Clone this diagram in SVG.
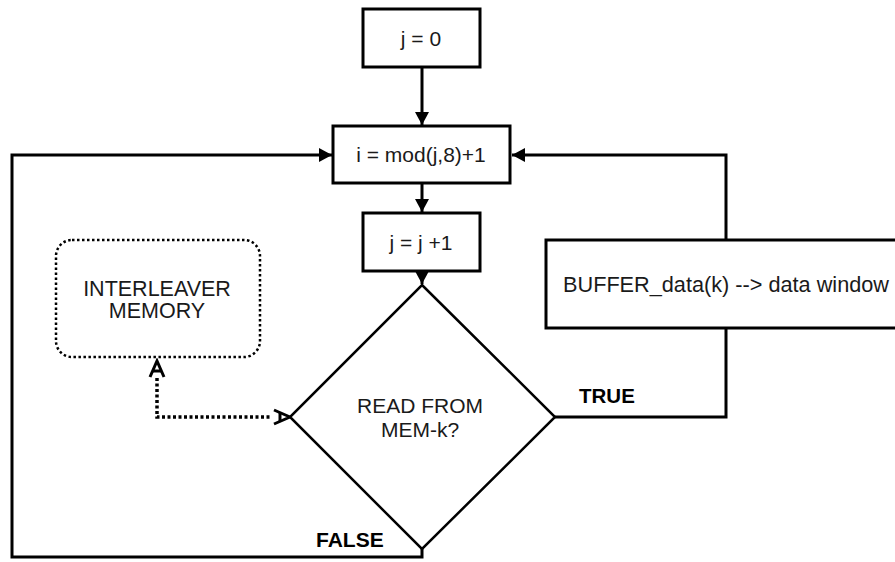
<svg xmlns="http://www.w3.org/2000/svg" width="895" height="562" viewBox="0 0 895 562">
  <style>
    .box { fill: #fff; stroke: #000; stroke-width: 3; }
    .dia { fill: #fff; stroke: #000; stroke-width: 2.5; }
    .mem { fill: #fff; stroke: #000; stroke-width: 2.5; stroke-dasharray: 2.5 2.5; }
    .t { font-family: "Liberation Sans", Arial, sans-serif; font-size: 21px; fill: #1a1a1a; text-anchor: middle; }
    .lbl { font-family: "Liberation Sans", Arial, sans-serif; font-size: 21px; font-weight: bold; fill: #000; }
    .wire { fill: none; stroke: #000; stroke-width: 3; }
    .dot { fill: none; stroke: #000; stroke-width: 3.5; stroke-dasharray: 3 2.5; }
  </style>
  <defs>
    <marker id="arr" markerUnits="userSpaceOnUse" markerWidth="14" markerHeight="14" refX="13" refY="7" orient="auto">
      <path d="M0,0 L13,7 L0,14 Z" fill="#000"/>
    </marker>
    <marker id="open" markerUnits="userSpaceOnUse" markerWidth="20" markerHeight="18" refX="17" refY="9" orient="auto">
      <path d="M1,2 L17,9 L1,16" fill="none" stroke="#000" stroke-width="3"/>
      <path d="M7,4.5 L7,13.5" fill="none" stroke="#000" stroke-width="3"/>
    </marker>
  </defs>

  <!-- connectors -->
  <g id="connectors">
    <line class="wire" x1="422" y1="67" x2="422" y2="125" marker-end="url(#arr)"/>
    <line class="wire" x1="422" y1="184" x2="422" y2="212" marker-end="url(#arr)"/>
    <line class="wire" x1="422" y1="271" x2="422" y2="284" marker-end="url(#arr)"/>
    <!-- FALSE branch back to the index step -->
    <polyline class="wire" points="422,548 422,557 12,557 12,155 332,155" marker-end="url(#arr)"/>
    <!-- TRUE branch through the buffer back to the index step -->
    <polyline class="wire" points="555,417 726,417 726,155 512,155" marker-end="url(#arr)"/>
    <!-- memory access link -->
    <polyline class="dot" points="157,378 157,417 272,417"/>
    <line x1="157" y1="385" x2="157" y2="361" stroke="none" marker-end="url(#open)"/>
    <line x1="265" y1="417" x2="290" y2="417" stroke="none" marker-end="url(#open)"/>
  </g>

  <g id="init">
    <rect class="box" x="363" y="9" width="117" height="58"/>
    <text class="t" x="421" y="46">j = 0</text>
  </g>

  <g id="index">
    <rect class="box" x="333" y="126" width="177" height="57"/>
    <text class="t" x="421" y="162">i = mod(j,8)+1</text>
  </g>

  <g id="increment">
    <rect class="box" x="363" y="213" width="117" height="58"/>
    <text class="t" x="421" y="250">j = j +1</text>
  </g>

  <g id="buffer">
    <rect class="box" x="546" y="240" width="360" height="88"/>
    <text class="t" x="563" y="292" style="text-anchor:start;font-size:21.7px">BUFFER_data(k) --&gt; data window</text>
  </g>

  <g id="decision">
    <polygon class="dia" points="422,285 555,417 422,549 290,417"/>
    <text class="t" x="420" y="413">READ FROM</text>
    <text class="t" x="420" y="437">MEM-k?</text>
  </g>

  <g id="memory">
    <rect class="mem" x="56" y="240" width="204" height="117" rx="16" ry="16"/>
    <text class="t" x="157" y="296" style="font-size:21.5px">INTERLEAVER</text>
    <text class="t" x="157" y="318" style="font-size:21.5px">MEMORY</text>
  </g>

  <g id="labels">
    <text class="lbl" x="579" y="403" style="font-size:20.5px">TRUE</text>
    <text class="lbl" x="316" y="547">FALSE</text>
  </g>
</svg>
